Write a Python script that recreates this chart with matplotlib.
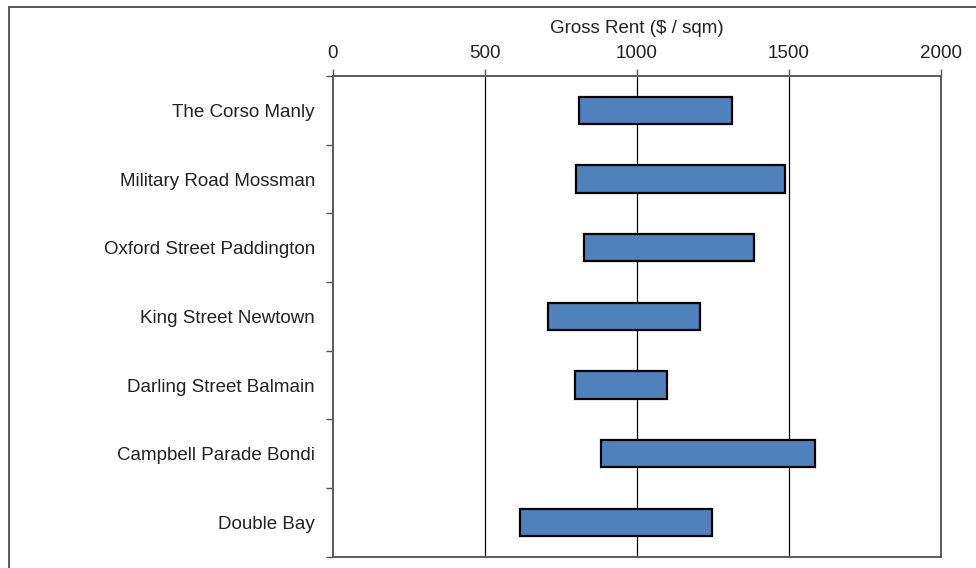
import matplotlib
matplotlib.use("Agg")
import matplotlib.pyplot as plt
from matplotlib.patches import Rectangle
import numpy as np

plt.rcParams['font.family'] = ['Liberation Sans', 'DejaVu Sans']

streets = ["The Corso Manly", "Military Road Mossman", "Oxford Street Paddington",
           "King Street Newtown", "Darling Street Balmain", "Campbell Parade Bondi",
           "Double Bay"]
rent_low = [808, 798, 827, 706, 797, 882, 614]
rent_high = [1312, 1487, 1384, 1208, 1098, 1584, 1246]
x_ticks = [0, 500, 1000, 1500, 2000]
x_label = "Gross Rent ($ / sqm)"

W, H = 976, 568
fig = plt.figure(figsize=(W / 100, H / 100), dpi=100)
fig.patch.set_facecolor("white")

# outer chart frame (only left and top edges fall inside the image)
fig.patches.append(Rectangle((8.5 / W, -0.1), 1.2, 1 - 6.8 / H + 0.1,
                             transform=fig.transFigure, fill=False,
                             edgecolor="#5a5a5a", linewidth=1.4, clip_on=False))

ax = fig.add_axes([333 / W, 1 - 556.7 / H, (941 - 333) / W, (556.7 - 76) / H])

y = np.arange(len(streets))
widths = np.array(rent_high) - np.array(rent_low)
ax.barh(y, widths, left=rent_low, height=0.4, color="#4F81BD",
        edgecolor="black", linewidth=1.6, zorder=3)

ax.set_xlim(0, 2000)
ax.set_ylim(len(streets) - 0.5, -0.5)

fs = 13.5
ax.xaxis.tick_top()
ax.xaxis.set_label_position("top")
ax.set_xticks(x_ticks)
ax.set_xticklabels([str(t) for t in x_ticks], fontsize=fs, color="#222222")
ax.set_xlabel(x_label, fontsize=fs, color="#222222", labelpad=9)
ax.tick_params(axis="x", direction="out", length=5, width=1, color="#555555", pad=5)

ax.set_yticks(y)
ax.set_yticklabels(streets, fontsize=fs, color="#222222")
ax.set_yticks(np.arange(len(streets) + 1) - 0.5, minor=True)
ax.tick_params(axis="y", which="major", length=0, pad=13)
ax.tick_params(axis="y", which="minor", direction="out", length=5, width=1, color="#555555")

for g in x_ticks[1:-1]:
    ax.axvline(g, color="black", linewidth=0.9, zorder=1)

for s in ax.spines.values():
    s.set_color("#5a5a5a")
    s.set_linewidth(1.4)

fig.savefig("out.png", dpi=100, facecolor="white")
